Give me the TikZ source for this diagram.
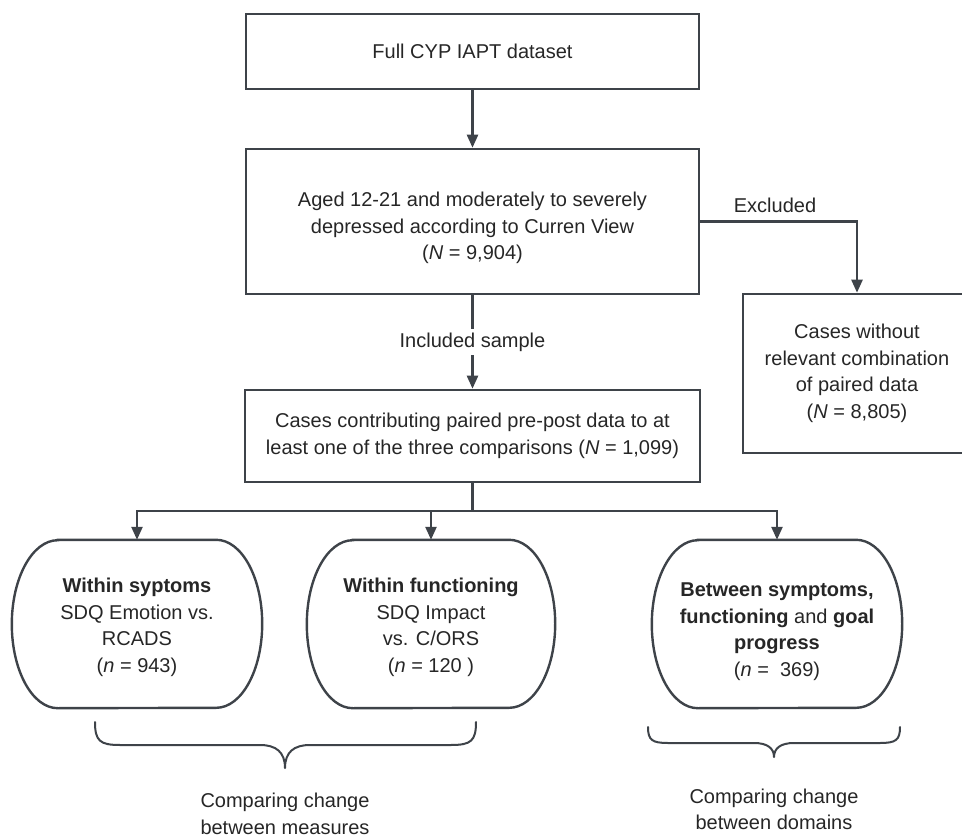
\documentclass[tikz,border=0pt]{standalone}
\usepackage{fontspec}
\setmainfont{Liberation Sans}
\usetikzlibrary{arrows.meta}
\definecolor{ln}{HTML}{3E4349}
\definecolor{tx}{HTML}{262626}

\tikzset{
  every node/.style={text=tx, font=\fontsize{20}{26.5}\selectfont, align=center},
  flowbox/.style={draw=ln, line width=2.6pt, inner sep=0pt},
  termbox/.style={inner sep=0pt, minimum height=168pt},
  conn/.style={draw=ln, line width=2.4pt, -{Triangle[length=13pt,width=11pt]}},
  plainline/.style={draw=ln, line width=2.4pt},
  bracepath/.style={draw=ln, line width=2pt, line cap=round, line join=round},
}

% flat top and bottom, half-elliptic sides
\newcommand\termoutline[1]{%
  \draw[draw=ln, line width=2.4pt]
    ([xshift=46pt]#1.north west) -- ([xshift=-46pt]#1.north east)
    arc[start angle=90, end angle=-90, x radius=46pt, y radius=84pt]
    -- ([xshift=46pt]#1.south west)
    arc[start angle=270, end angle=90, x radius=46pt, y radius=84pt]
    -- cycle;}

\begin{document}
\begin{tikzpicture}[x=1pt, y=-1pt]
  \useasboundingbox (0,0) rectangle (962,837);
  \clip (0,0) rectangle (962,837);

  % main flow
  \node[flowbox, minimum width=453pt, minimum height=75pt] (full) at (472.5,51.5)
    {Full CYP IAPT dataset};
  \node[flowbox, minimum width=453pt, minimum height=145pt] (aged) at (472.5,221.5) {};
  \node (agedtext) at (472.5,228)
    {Aged 12-21 and moderately to severely\\depressed according to Curren View\\(\textit{N} = 9,904)};
  \node[flowbox, minimum width=455pt, minimum height=92pt] (cases) at (472.5,436)
    {Cases contributing paired pre-post data to at\\least one of the three comparisons (\textit{N} = 1,099)};
  \node[flowbox, minimum width=228pt, minimum height=159pt] (excl) at (857,373.5)
    {Cases without\\relevant combination\\of paired data\\(\textit{N} = 8,805)};

  % comparison groups
  \node[termbox, minimum width=250pt] (sym) at (137,624) {};
  \node[termbox, minimum width=248pt] (fun) at (431,624) {};
  \node[termbox, minimum width=250pt] (dom) at (777,624) {};
  \termoutline{sym}
  \termoutline{fun}
  \termoutline{dom}
  \node (symtext) at (137,627.5)
    {\textbf{Within syptoms}\\SDQ Emotion vs.\\RCADS\\(\textit{n} = 943)};
  \node (funtext) at (431,627.5)
    {\textbf{Within functioning}\\SDQ Impact\\vs. C/ORS\\(\textit{n} = 120 )};
  \node (domtext) at (777,631.5)
    {\textbf{Between symptoms,}\\\textbf{functioning} and \textbf{goal}\\\textbf{progress}\\(\textit{n} = \ 369)};

  % connectors
  \draw[conn] (full) -- (aged);
  \draw[conn] (aged) -- node[fill=white, inner sep=4pt] {Included sample} (cases);
  \draw[conn] (aged.east) -| (excl.north);
  \node (exlabel) at (775,205) {Excluded};

  \coordinate (split) at (472.5,511);
  \draw[plainline] (cases.south) -- (split);
  \draw[conn] (split) -| (sym.north);
  \draw[conn] (split) -| (fun.north);
  \draw[conn] (split) -| (dom.north);

  % braces and their captions
  \draw[bracepath] (95,722) .. controls (95,741) and (100,745) .. (120,745)
    -- (260,745) .. controls (276,745) and (285,752) .. (285,768)
    .. controls (285,752) and (294,745) .. (310,745)
    -- (451,745) .. controls (471,745) and (476,741) .. (476,722);
  \draw[bracepath] (648,727) .. controls (648,740) and (652,743) .. (668,743)
    -- (754,743) .. controls (767,743) and (774,748) .. (774,757)
    .. controls (774,748) and (781,743) .. (794,743)
    -- (880,743) .. controls (896,743) and (900,740) .. (900,727);

  \node (measures) at (285,814) {Comparing change\\between measures};
  \node (domains) at (774,809.5) {Comparing change\\between domains};
\end{tikzpicture}
\end{document}
